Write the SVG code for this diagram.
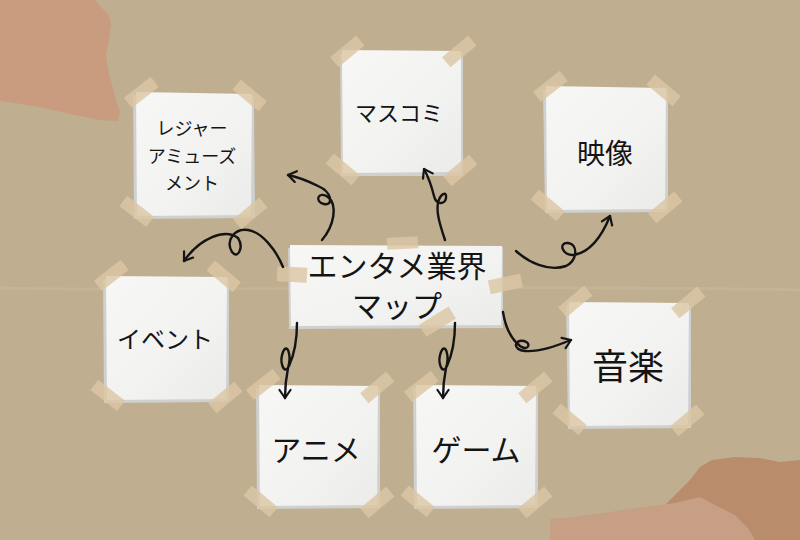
<svg xmlns="http://www.w3.org/2000/svg" width="800" height="540" viewBox="0 0 800 540">
<defs>
<style>
.under{fill:#cfd0d0;}
.tape{fill:#dcc6a4;opacity:0.8;}
.lbl{font-family:"Noto Sans CJK JP","Noto Sans",sans-serif;fill:#141414;text-anchor:middle;dominant-baseline:central;}
.con{fill:none;stroke:#141414;stroke-width:2.4;stroke-linecap:round;stroke-linejoin:round;}
</style>
<linearGradient id="paper" x1="0" y1="0" x2="1" y2="1">
<stop offset="0" stop-color="#f7f7f6"/>
<stop offset="0.6" stop-color="#f2f2f1"/>
<stop offset="1" stop-color="#ebebea"/>
</linearGradient>
<marker id="arr" markerUnits="userSpaceOnUse" markerWidth="14" markerHeight="14" refX="11" refY="7" orient="auto">
<path d="M3,1.5 L11,7 L3,12.5" fill="none" stroke="#141414" stroke-width="2.2" stroke-linecap="round" stroke-linejoin="round"/>
</marker>
</defs>

<rect width="800" height="540" fill="#bfae8f"/>
<path d="M0,288 C200,292 500,284 800,290" stroke="#c9bb9e" stroke-width="3" fill="none" opacity="0.5"/>

<!-- torn papers -->
<path d="M0,0 L95,0 L100,6 L108,14 L111,24 L109,40 L106,55 L108,70 L112,85 L116,100 L120,112 L118,121 L100,120 L70,114 L40,107 L15,103 L0,101 Z" fill="#c99b7f"/>
<path d="M645,540 L648,523 L660,510 L675,495 L690,480 L700,467 L712,460 L735,457 L760,458 L780,462 L800,460 L800,540 Z" fill="#b98c6b"/>
<path d="M550,540 L550,519 L575,517 L610,512 L645,507 L675,503 L700,497 L715,505 L735,515 L748,528 L755,540 Z" fill="#c79f85"/>

<!-- レジャー -->
<g id="leisure">
<path class="under" d="M133,95 L254,96 L255,218 L134,219 Z"/>
<path style="fill:url(#paper)" d="M136,92 L252,94 L251,215 L137,216 Z"/>
<rect class="tape" x="124" y="86" width="34" height="13" transform="rotate(-38 141 92)"/>
<rect class="tape" x="233" y="89" width="34" height="13" transform="rotate(40 250 95)"/>
<rect class="tape" x="120" y="205" width="34" height="13" transform="rotate(38 137 211)"/>
<rect class="tape" x="233" y="207" width="34" height="13" transform="rotate(-40 250 213)"/>
<text class="lbl" x="192" y="127" font-size="18">レジャー</text>
<text class="lbl" x="192" y="155" font-size="18">アミューズ</text>
<text class="lbl" x="192" y="182" font-size="18">メント</text>
</g>

<!-- マスコミ -->
<g id="masscomi">
<path class="under" d="M340,53 L463,53 L463,176 L341,176 Z"/>
<path style="fill:url(#paper)" d="M342,50 L461,51 L461,172 L343,173 Z"/>
<rect class="tape" x="330" y="45" width="34" height="13" transform="rotate(-40 347 51)"/>
<rect class="tape" x="442" y="45" width="34" height="13" transform="rotate(-40 459 51)"/>
<rect class="tape" x="326" y="163" width="34" height="13" transform="rotate(40 343 169)"/>
<rect class="tape" x="443" y="164" width="34" height="13" transform="rotate(-40 460 170)"/>
<text class="lbl" x="399" y="111" font-size="22">マスコミ</text>
</g>

<!-- 映像 -->
<g id="eizou">
<path class="under" d="M543,89 L668,89 L668,212 L545,213 Z"/>
<path style="fill:url(#paper)" d="M546,86 L666,88 L665,209 L547,210 Z"/>
<rect class="tape" x="533" y="80" width="34" height="13" transform="rotate(-38 550 86)"/>
<rect class="tape" x="647" y="84" width="34" height="13" transform="rotate(40 664 90)"/>
<rect class="tape" x="531" y="199" width="34" height="13" transform="rotate(40 548 205)"/>
<rect class="tape" x="648" y="201" width="34" height="13" transform="rotate(-40 665 207)"/>
<text class="lbl" x="605" y="152" font-size="28">映像</text>
</g>

<!-- center -->
<g id="center">
<path class="under" d="M288,248 L503,247 L503,328 L289,329 Z"/>
<path style="fill:url(#paper)" d="M290,245 L502,246 L501,325 L291,326 Z"/>
<rect class="tape" x="387" y="237" width="31" height="12" transform="rotate(-3 402 243)"/>
<rect class="tape" x="277" y="267" width="30" height="15" transform="rotate(3 292 274)"/>
<rect class="tape" x="489" y="277" width="33" height="14" transform="rotate(-12 505 284)"/>
<rect class="tape" x="420" y="315" width="35" height="14" transform="rotate(-32 437 322)"/>
<text class="lbl" x="397" y="264" font-size="30">エンタメ業界</text>
<text class="lbl" x="397" y="304" font-size="30">マップ</text>
</g>

<!-- イベント -->
<g id="event">
<path class="under" d="M103,279 L229,279 L229,402 L104,403 Z"/>
<path style="fill:url(#paper)" d="M106,276 L227,277 L226,399 L107,400 Z"/>
<rect class="tape" x="94" y="269" width="34" height="13" transform="rotate(-38 111 275)"/>
<rect class="tape" x="207" y="270" width="34" height="13" transform="rotate(40 224 276)"/>
<rect class="tape" x="91" y="389" width="34" height="13" transform="rotate(38 108 395)"/>
<rect class="tape" x="208" y="391" width="34" height="13" transform="rotate(-40 225 397)"/>
<text class="lbl" x="165" y="337" font-size="24">イベント</text>
</g>

<!-- 音楽 -->
<g id="music">
<path class="under" d="M566,305 L691,305 L691,428 L568,429 Z"/>
<path style="fill:url(#paper)" d="M569,302 L689,303 L688,425 L570,426 Z"/>
<rect class="tape" x="558" y="295" width="34" height="13" transform="rotate(-40 575 301)"/>
<rect class="tape" x="671" y="296" width="34" height="13" transform="rotate(-40 688 302)"/>
<rect class="tape" x="553" y="413" width="34" height="13" transform="rotate(40 570 419)"/>
<rect class="tape" x="670" y="414" width="34" height="13" transform="rotate(-40 687 420)"/>
<text class="lbl" x="628" y="364" font-size="36">音楽</text>
</g>

<!-- アニメ -->
<g id="anime">
<path class="under" d="M256,388 L380,388 L380,508 L257,509 Z"/>
<path style="fill:url(#paper)" d="M259,385 L378,386 L377,505 L260,506 Z"/>
<rect class="tape" x="246" y="378" width="34" height="13" transform="rotate(-38 263 384)"/>
<rect class="tape" x="360" y="381" width="34" height="13" transform="rotate(-40 377 387)"/>
<rect class="tape" x="244" y="495" width="34" height="13" transform="rotate(40 261 501)"/>
<rect class="tape" x="360" y="496" width="34" height="13" transform="rotate(-40 377 502)"/>
<text class="lbl" x="316" y="448" font-size="30">アニメ</text>
</g>

<!-- ゲーム -->
<g id="game">
<path class="under" d="M413,388 L538,388 L538,508 L414,509 Z"/>
<path style="fill:url(#paper)" d="M416,385 L536,386 L535,505 L417,506 Z"/>
<rect class="tape" x="404" y="380" width="34" height="13" transform="rotate(-38 421 386)"/>
<rect class="tape" x="518" y="381" width="34" height="13" transform="rotate(-40 535 387)"/>
<rect class="tape" x="401" y="495" width="34" height="13" transform="rotate(40 418 501)"/>
<rect class="tape" x="518" y="496" width="34" height="13" transform="rotate(-40 535 502)"/>
<text class="lbl" x="476" y="448" font-size="30">ゲーム</text>
</g>

<!-- connectors -->
<g id="connectors">
<path class="con" marker-end="url(#arr)" d="M322,240 C334,226 338,205 328,197 C318,190 314,202 324,204 C334,206 332,192 318,186 C308,181 298,177 288,175"/>
<path class="con" marker-end="url(#arr)" d="M445,240 C440,225 436,212 438,203 C440,194 447,190 446,198 C445,205 436,205 434,196 C432,188 430,180 424,169"/>
<path class="con" marker-end="url(#arr)" d="M516,251 C528,262 548,272 566,266 C578,260 578,244 568,243 C558,242 562,256 574,255 C590,252 602,236 610,216"/>
<path class="con" marker-end="url(#arr)" d="M283,267 C276,250 262,232 248,230 C235,228 225,240 232,252 C238,260 244,247 238,238 C225,228 200,238 184,261"/>
<path class="con" marker-end="url(#arr)" d="M297,323 C297,340 294,355 289,366 C284,376 279,362 283,352 C287,342 292,355 288,368 C286,378 285,388 285,398"/>
<path class="con" marker-end="url(#arr)" d="M455,323 C455,340 452,355 447,366 C442,376 437,362 441,352 C445,342 450,355 446,368 C444,378 443,388 443,398"/>
<path class="con" marker-end="url(#arr)" d="M503,312 C505,325 510,338 520,346 C528,352 532,343 524,341 C514,339 512,350 525,351 C540,352 556,346 571,340"/>
</g>
</svg>
